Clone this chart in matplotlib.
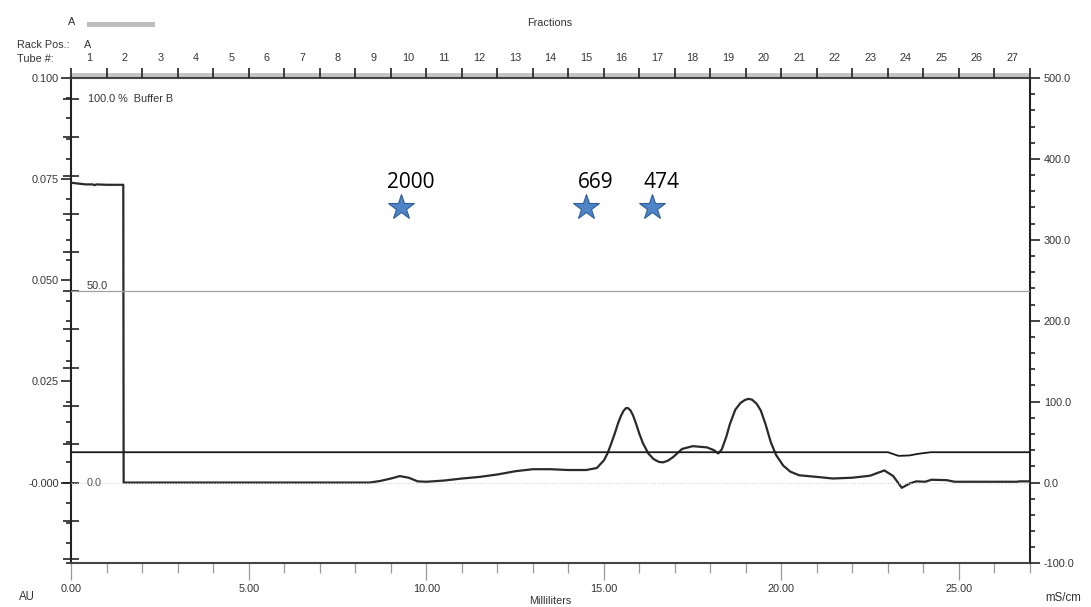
import matplotlib
matplotlib.use("Agg")
import matplotlib.pyplot as plt
from matplotlib.ticker import MultipleLocator, FixedLocator, NullFormatter

plt.rcParams['font.family'] = ['Liberation Sans', 'DejaVu Sans']

# UV trace (AU) vs volume (ml)
uv_ml = [0.00, 0.10, 0.40, 0.60, 0.65, 0.70, 1.00, 1.46, 1.47, 8.40, 8.70, 9.00,
         9.25, 9.50, 9.75, 10.00, 10.50, 11.00, 11.50, 12.00, 12.50, 13.00, 13.50,
         14.00, 14.50, 14.80, 15.00, 15.10, 15.20, 15.30, 15.40, 15.47, 15.55, 15.62,
         15.68, 15.75, 15.82, 15.90, 16.00, 16.10, 16.25, 16.40, 16.55, 16.67, 16.80,
         16.95, 17.20, 17.50, 17.90, 18.10, 18.22, 18.32, 18.45, 18.55, 18.70, 18.85,
         18.97, 19.07, 19.17, 19.30, 19.42, 19.55, 19.70, 19.85, 20.05, 20.25, 20.50,
         21.00, 21.45, 22.00, 22.50, 22.90, 23.15, 23.39, 23.62, 23.80, 24.05, 24.23,
         24.65, 24.88, 26.62, 26.72, 26.98]
uv_au = [0.0741, 0.0740, 0.0737, 0.0737, 0.0735, 0.0737, 0.0736, 0.0736, 0.0000, 0.0000,
         0.0004, 0.0010, 0.0016, 0.0012, 0.0003, 0.0002, 0.0005, 0.0010, 0.0014, 0.0020,
         0.0028, 0.0033, 0.0033, 0.0031, 0.0031, 0.0036, 0.0055, 0.0072, 0.0095, 0.0120,
         0.0147, 0.0163, 0.0177, 0.0184, 0.0184, 0.0178, 0.0166, 0.0147, 0.0120, 0.0097,
         0.0072, 0.0058, 0.0051, 0.0050, 0.0054, 0.0063, 0.0083, 0.0090, 0.0087, 0.0080,
         0.0072, 0.0082, 0.0114, 0.0145, 0.0180, 0.0197, 0.0204, 0.0207, 0.0205, 0.0195,
         0.0178, 0.0145, 0.0100, 0.0068, 0.0042, 0.0027, 0.0018, 0.0014, 0.0010, 0.0012,
         0.0017, 0.0030, 0.0016, -0.0013, -0.0002, 0.0003, 0.0002, 0.0007, 0.0006, 0.0002,
         0.0002, 0.0003, 0.0003]

# conductivity (mS/cm)
cond_ml = [0.0, 23.0, 23.3, 23.6, 23.85, 24.2, 27.0]
cond_ms = [37.5, 37.5, 33.0, 33.5, 35.5, 37.5, 37.5]

# % Buffer B
concb_ml = [0.0, 27.0]
concb_pct = [50.0, 50.0]
base_ml = [0.0, 27.0]
base_pct = [0.0, 0.0]

# markers
star_ml = [9.28, 14.49, 16.35]
star_au = [0.0681, 0.0681, 0.0681]
star_labels = ["2000", "669", "474"]

tubes = [str(i) for i in range(1, 28)]

txt = '#333333'
fig = plt.figure(figsize=(10.91, 6.07), dpi=100)
ax = fig.add_axes([0.0655, 0.0717, 0.8785, 0.7998])
ax.set_xlim(0, 27)
ax.set_ylim(-0.020, 0.100)

fs = 7.8
ax.yaxis.set_major_locator(MultipleLocator(0.025))
ax.yaxis.set_minor_locator(MultipleLocator(0.005))
ax.yaxis.set_major_formatter(plt.FuncFormatter(lambda v, p: "-0.000" if abs(v) < 1e-9 else f"{v:.3f}"))
ax.tick_params(axis='y', which='major', direction='out', length=7, width=1.2, labelsize=fs, pad=2,
               color='#222222', labelcolor=txt)
ax.tick_params(axis='y', which='minor', direction='out', length=3.6, width=1.2, color='#222222')

ax.xaxis.set_major_locator(MultipleLocator(5))
ax.xaxis.set_minor_locator(MultipleLocator(1))
ax.xaxis.set_major_formatter(plt.FuncFormatter(lambda v, p: f"{v:.2f}"))
ax.tick_params(axis='x', which='major', direction='out', length=12, width=0.9, labelsize=fs, pad=3,
               color='#999999', labelcolor=txt)
ax.tick_params(axis='x', which='minor', direction='out', length=7, width=0.9, color='#999999')

ax.spines['left'].set_linewidth(1.5)
ax.spines['left'].set_color('#222222')
ax.spines['bottom'].set_linewidth(1.5)
ax.spines['bottom'].set_color('#444444')
ax.spines['top'].set_linewidth(1.5)
ax.spines['top'].set_color('#444444')
ax.spines['right'].set_linewidth(1.5)
ax.spines['right'].set_color('#222222')

# right axis: conductivity
ax2 = ax.twinx()
ax2.set_ylim(-100, 500)
ax2.yaxis.set_major_locator(MultipleLocator(100))
ax2.yaxis.set_minor_locator(MultipleLocator(20))
ax2.yaxis.set_major_formatter(plt.FuncFormatter(lambda v, p: f"{v:.1f}"))
ax2.tick_params(axis='y', which='major', direction='out', length=7, width=1.2, labelsize=fs, pad=3,
                color='#222222', labelcolor=txt)
ax2.tick_params(axis='y', which='minor', direction='out', length=3.6, width=1.2, color='#222222')
for s in ax2.spines.values():
    s.set_visible(False)

# % Buffer B axis, ticks on the left spine
ax3 = ax.twinx()
ax3.set_ylim(-0.020 / 0.000948, 0.100 / 0.000948)
ax3.yaxis.set_ticks_position('left')
ax3.yaxis.set_major_locator(MultipleLocator(10))
ax3.tick_params(axis='y', which='major', direction='inout', length=11, width=1.2,
                labelleft=False, labelright=False, color='#222222')
for s in ax3.spines.values():
    s.set_visible(False)

# fraction axis on top
ax4 = ax.twiny()
ax4.set_xlim(0, 27)
ax4.xaxis.set_major_locator(MultipleLocator(1))
ax4.xaxis.set_major_formatter(NullFormatter())
ax4.xaxis.set_minor_locator(FixedLocator([i + 0.5 for i in range(27)]))
ax4.set_xticklabels(tubes, minor=True)
ax4.tick_params(axis='x', which='major', direction='out', length=7, width=1.2, color='#222222')
ax4.tick_params(axis='x', which='minor', length=0, labelsize=fs, pad=11, labelcolor=txt)
for s in ax4.spines.values():
    s.set_visible(False)

# gray band along top
ax.add_patch(plt.Rectangle((0, 1.0), 1.0, 0.011, transform=ax.transAxes,
                           facecolor='#c4c4c4', edgecolor='none', clip_on=False, zorder=0))

# traces
ax3.plot(base_ml, base_pct, color='#d0d0d0', lw=0.8, ls=(0, (1, 1.5)))
ax3.plot(concb_ml, concb_pct, color='#a0a0a0', lw=0.9)
ax2.plot(cond_ml, cond_ms, color='#1a1a1a', lw=1.3)
ax.plot(uv_ml, uv_au, color='#2a2a2a', lw=1.6, zorder=5, solid_joinstyle='round')

# %B labels
ax3.text(0.48, 100, "100.0 %  Buffer B", fontsize=fs, va='center', ha='left', color=txt)
ax3.text(0.44, 50, "50.0", fontsize=fs, va='bottom', ha='left', color=txt)
ax3.text(0.44, 0, "0.0", fontsize=fs, va='center', ha='left', color='#555555')

# stars with labels
ax.plot(star_ml, star_au, ls='none', marker='*', markersize=19,
        markerfacecolor='#4f85c6', markeredgecolor='#2d5e98', markeredgewidth=0.8, zorder=6)
for xm, ym, lab in zip(star_ml, star_au, star_labels):
    ax.annotate(lab, (xm, ym), xytext=(7, 18), textcoords='offset points',
                ha='center', va='center', fontsize=15, family=['Open Sans', 'DejaVu Sans'])

# header / axis titles
fig.text(72 / 1091, 1 - 22 / 607, "A", fontsize=fs, ha='center', va='center', color=txt)
fig.add_artist(plt.Rectangle((87 / 1091, 1 - 27 / 607), 68 / 1091, 5 / 607,
                             transform=fig.transFigure, facecolor='#bdbdbd', edgecolor='none'))
fig.text(550 / 1091, 1 - 23 / 607, "Fractions", fontsize=fs, ha='center', va='center', color=txt)
fig.text(17 / 1091, 1 - 45 / 607, "Rack Pos.:", fontsize=fs, ha='left', va='center', color=txt)
fig.text(88 / 1091, 1 - 45 / 607, "A", fontsize=fs, ha='center', va='center', color=txt)
fig.text(17 / 1091, 1 - 59 / 607, "Tube #:", fontsize=fs, ha='left', va='center', color=txt)
fig.text(27 / 1091, 1 - 597 / 607, "AU", fontsize=fs + 0.5, ha='center', va='center', color=txt)
fig.text(550 / 1091, 1 - 601 / 607, "Milliliters", fontsize=fs, ha='center', va='center', color=txt)
fig.text(1063 / 1091, 1 - 598 / 607, "mS/cm", fontsize=fs + 0.5, ha='center', va='center', color=txt)

fig.savefig("out.png", dpi=100)
